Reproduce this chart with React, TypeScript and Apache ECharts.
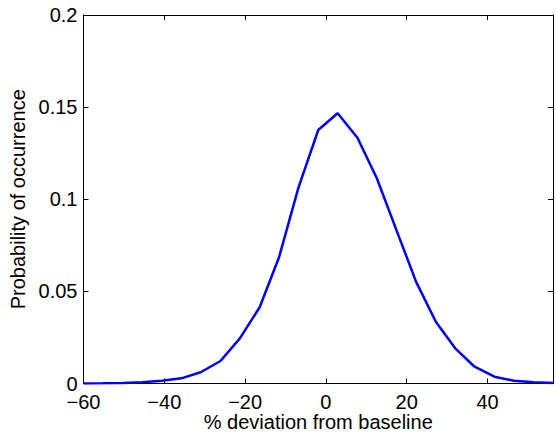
import React, { useEffect, useRef } from "react";
import * as echarts from "echarts";

const deviation = [-60, -55.2, -50.3, -45.5, -40.6, -35.8, -31.0, -26.1, -21.3, -16.4, -11.6, -6.8, -1.9, 2.9, 7.8, 12.6, 17.5, 22.3, 27.2, 32.0, 36.8, 41.7, 46.5, 51.4, 56.2];
const probability = [0, 0.0001, 0.0003, 0.0007, 0.0015, 0.0028, 0.0061, 0.0122, 0.0245, 0.0414, 0.0685, 0.1063, 0.1376, 0.1467, 0.1334, 0.1114, 0.0830, 0.0553, 0.0335, 0.0191, 0.0091, 0.0037, 0.0015, 0.0007, 0.0003];

const xTickStep = 20;
const yTickStep = 0.05;
const xLabel = "% deviation from baseline";
const yLabel = "Probability of occurrence";

const FONT = '"Liberation Sans", Arial, Helvetica, sans-serif';

export default function App() {
  const ref = useRef<HTMLDivElement>(null);
  useEffect(() => {
    if (!ref.current) return;
    const chart = echarts.init(ref.current, null, { renderer: "svg" });
    const axisLine = { show: true, onZero: false, lineStyle: { color: "#000", width: 1 } };
    const tick = { show: true, inside: true, length: 5, lineStyle: { color: "#000", width: 1 } };
    const fmtX = (v: number) => {
      if (Math.abs(v / xTickStep - Math.round(v / xTickStep)) > 1e-6) return "";
      return String(v).replace("-", "\u2212");
    };
    chart.setOption({
      animation: false,
      backgroundColor: "#fff",
      grid: { left: 83.5, right: 3, top: 15, bottom: 51.5, containLabel: false, outerBoundsMode: "none" },
      xAxis: [
        {
          type: "value",
          position: "bottom",
          min: -60,
          max: deviation[deviation.length - 1],
          interval: xTickStep,
          axisLine,
          axisTick: tick,
          splitLine: { show: false },
          axisLabel: { formatter: fmtX, color: "#000", fontSize: 20, fontFamily: FONT, margin: 8 },
          name: xLabel,
          nameLocation: "middle",
          nameGap: 28,
          nameMoveOverlap: false,
          nameTextStyle: { color: "#000", fontSize: 20, fontFamily: FONT, lineHeight: 20 },
        },
        {
          type: "value",
          position: "top",
          min: -60,
          max: deviation[deviation.length - 1],
          interval: xTickStep,
          axisLine,
          axisTick: tick,
          splitLine: { show: false },
          axisLabel: { show: false },
        },
      ],
      yAxis: [
        {
          type: "value",
          position: "left",
          min: 0,
          max: 0.2,
          interval: yTickStep,
          axisLine,
          axisTick: tick,
          splitLine: { show: false },
          axisLabel: { color: "#000", fontSize: 20, fontFamily: FONT, margin: 6 },
          name: yLabel,
          nameLocation: "middle",
          nameGap: 56,
          nameMoveOverlap: false,
          nameTextStyle: { color: "#000", fontSize: 20, fontFamily: FONT },
        },
        {
          type: "value",
          position: "right",
          min: 0,
          max: 0.2,
          interval: yTickStep,
          axisLine,
          axisTick: tick,
          splitLine: { show: false },
          axisLabel: { show: false },
        },
      ],
      series: [
        {
          type: "line",
          data: deviation.map((x, i) => [x, probability[i]]),
          showSymbol: false,
          symbol: "none",
          lineStyle: { color: "#0000ff", width: 2.5 },
          clip: true,
        },
      ],
    });
    return () => chart.dispose();
  }, []);
  return (
    <div
      ref={ref}
      style={{ position: "fixed", left: 0, top: 0, width: 556, height: 435, background: "#fff" }}
    />
  );
}
